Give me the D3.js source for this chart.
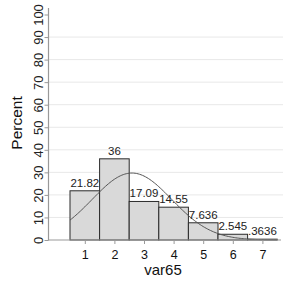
<!DOCTYPE html>
<html><head><meta charset="utf-8">
<script src="https://cdn.jsdelivr.net/npm/d3@7"></script>
<style>body{margin:0;background:#fff}svg{display:block}text{font-family:"Liberation Sans",Arial,sans-serif}</style>
</head><body>
<script>
const categories = [1, 2, 3, 4, 5, 6, 7];
const percents = [21.82, 36, 17.09, 14.55, 7.636, 2.545, 0.3636];
const barLabels = ["21.82", "36", "17.09", "14.55", "7.636", "2.545", ".3636"];
const yTicks = [0, 10, 20, 30, 40, 50, 60, 70, 80, 90, 100];
const xTicks = [1, 2, 3, 4, 5, 6, 7];

const W = 283, H = 282;
const svg = d3.select("body").append("svg").attr("width", W).attr("height", H);

const x = d3.scaleLinear().domain([0.5, 7.5]).range([70, 277.2]);
const y = d3.scaleLinear().domain([0, 100]).range([240, 14.5]);
const plotL = 48.5, plotR = 281, plotT = 8;

// gridlines
svg.append("g").selectAll("line").data(yTicks.filter(t => t > 0 && t < 100)).join("line")
  .attr("x1", plotL).attr("x2", W).attr("y1", d => y(d)).attr("y2", d => y(d))
  .attr("stroke", "#e8e8e8").attr("stroke-width", 1);

// bars
svg.append("g").selectAll("rect").data(categories).join("rect")
  .attr("x", (d) => x(d - 0.5)).attr("width", (d) => x(d + 0.5) - x(d - 0.5))
  .attr("y", (d, i) => y(percents[i])).attr("height", (d, i) => y(0) - y(percents[i]))
  .attr("fill", "#d9d9d9").attr("stroke", "#2a2a2a").attr("stroke-width", 1);

// normal curve
const tot = d3.sum(percents);
const mean = d3.sum(categories, (c, i) => c * percents[i]) / tot;
const sd = Math.sqrt(d3.sum(categories, (c, i) => (c - mean) ** 2 * percents[i]) / tot);
const pts = d3.range(0.5, 7.5001, 0.05).map(v => [v, 100 * Math.exp(-0.5 * ((v - mean) / sd) ** 2) / (sd * Math.sqrt(2 * Math.PI))]);
svg.append("path").datum(pts)
  .attr("d", d3.line().x(d => x(d[0])).y(d => y(d[1])))
  .attr("fill", "none").attr("stroke", "#555").attr("stroke-width", 1);

// bar labels
svg.append("g").selectAll("text").data(categories).join("text")
  .attr("x", d => x(d)).attr("y", (d, i) => y(percents[i]) - 4)
  .attr("text-anchor", "middle").attr("font-size", 11.5).attr("fill", "#222")
  .text((d, i) => barLabels[i]);

// y axis
const yAxis = svg.append("g").attr("transform", `translate(${plotL},0)`)
  .call(d3.axisLeft(y).tickValues(yTicks).tickSize(4).tickPadding(3));
yAxis.select(".domain").remove();
yAxis.selectAll(".tick line").attr("stroke", "#999");
yAxis.selectAll(".tick text").attr("font-size", 13).attr("fill", "#222")
  .attr("text-anchor", "middle").attr("dy", 0)
  .attr("transform", "translate(-6,0) rotate(-90)").attr("x", 0).attr("y", 0);
svg.append("line").attr("x1", plotL).attr("x2", plotL).attr("y1", plotT).attr("y2", 240.5)
  .attr("stroke", "#999").attr("stroke-width", 1.2);

// x axis
const xAxis = svg.append("g").attr("transform", `translate(0,240)`)
  .call(d3.axisBottom(x).tickValues(xTicks).tickSize(4).tickPadding(3).tickFormat(d3.format("d")));
xAxis.select(".domain").remove();
xAxis.selectAll(".tick line").attr("stroke", "#999");
xAxis.selectAll(".tick text").attr("font-size", 12.5).attr("fill", "#111").attr("y", 18.5).attr("dy", 0);
svg.append("line").attr("x1", plotL).attr("x2", plotR).attr("y1", 240).attr("y2", 240)
  .attr("stroke", "#999").attr("stroke-width", 1.2);

// axis titles
svg.append("text").attr("transform", "translate(22,123) rotate(-90)")
  .attr("text-anchor", "middle").attr("font-size", 15.5).attr("fill", "#111").text("Percent");
svg.append("text").attr("x", 163).attr("y", 275)
  .attr("text-anchor", "middle").attr("font-size", 15).attr("fill", "#111").text("var65");
</script>
</body></html>
